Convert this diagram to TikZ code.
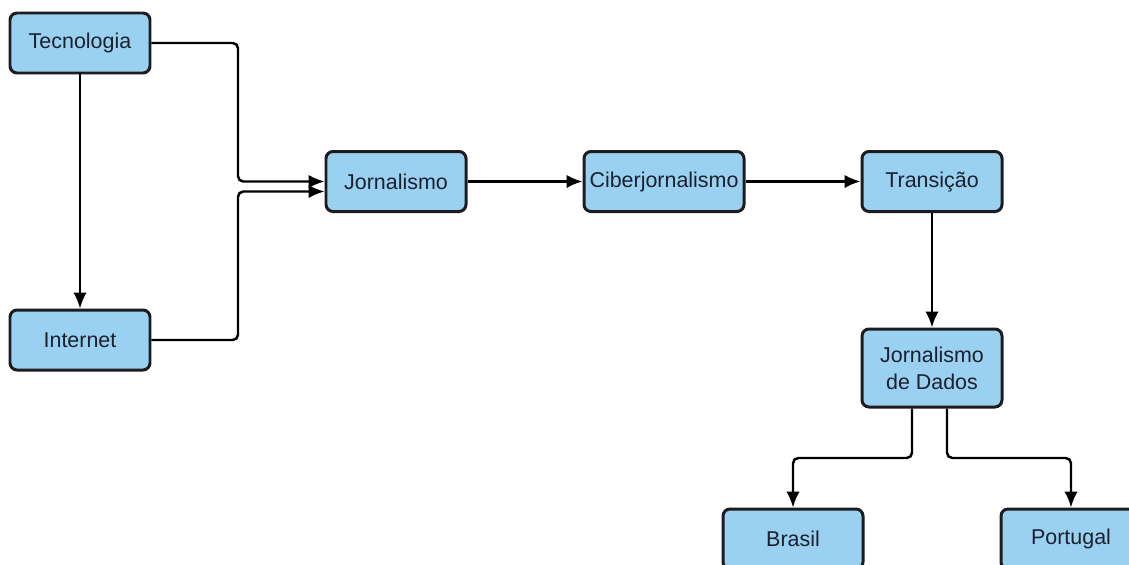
\documentclass[tikz,border=0pt]{standalone}
\usepackage{fontspec}
\setmainfont{Liberation Sans}
\usetikzlibrary{arrows.meta}
\definecolor{boxblue}{RGB}{155,209,240}
\definecolor{boxline}{RGB}{28,28,32}
\definecolor{boxtext}{RGB}{26,32,48}

\begin{document}
\begin{tikzpicture}[
    box/.style={draw=boxline, fill=boxblue, text=boxtext, line width=1.7pt, rounded corners=4pt,
        minimum width=2.8cm, minimum height=1.2cm, align=center, inner sep=1pt,
        font=\fontsize{12.2}{15.5}\selectfont},
    link/.style={->, line width=1.4pt, >={Latex[length=3.2mm,width=2.7mm]}, rounded corners=3pt}
]
    \useasboundingbox (0,0) rectangle (22.58,-11.28);

    % Boxes
    \node[box] (tec) at (1.6,-0.86) {Tecnologia};
    \node[box] (int) at (1.6,-6.8) {Internet};
    \node[box] (jor) at (7.92,-3.63) {Jornalismo};
    \node[box, minimum width=3.2cm] (cib) at (13.28,-3.63) {Ciberjornalismo};
    \node[box] (tra) at (18.64,-3.63) {Transição};
    \node[box, minimum height=1.56cm] (jdd) at (18.64,-7.36) {Jornalismo\\de Dados};
    \node[box] (bra) at (15.86,-10.78) {Brasil};
    \node[box] (por) at (21.42,-10.78) {Portugal};

    % Bend points
    \coordinate (m1) at (4.76,-3.63);
    \coordinate (m2) at (4.76,-3.83);
    \coordinate (d1) at (18.24,-9.16);
    \coordinate (d2) at (18.94,-9.16);

    % Links
    \draw[link] (tec) -- (int);
    \draw[link] (tec.east) -| (m1) -- (jor.west);
    \draw[link] (int.east) -| (m2) -- (m2 -| jor.west);
    \draw[link] (jor) -- (cib);
    \draw[link] (cib) -- (tra);
    \draw[link] (tra) -- (jdd);
    \draw[link] (jdd.south -| d1) -- (d1) -| (bra);
    \draw[link] (jdd.south -| d2) -- (d2) -| (por);
\end{tikzpicture}
\end{document}
